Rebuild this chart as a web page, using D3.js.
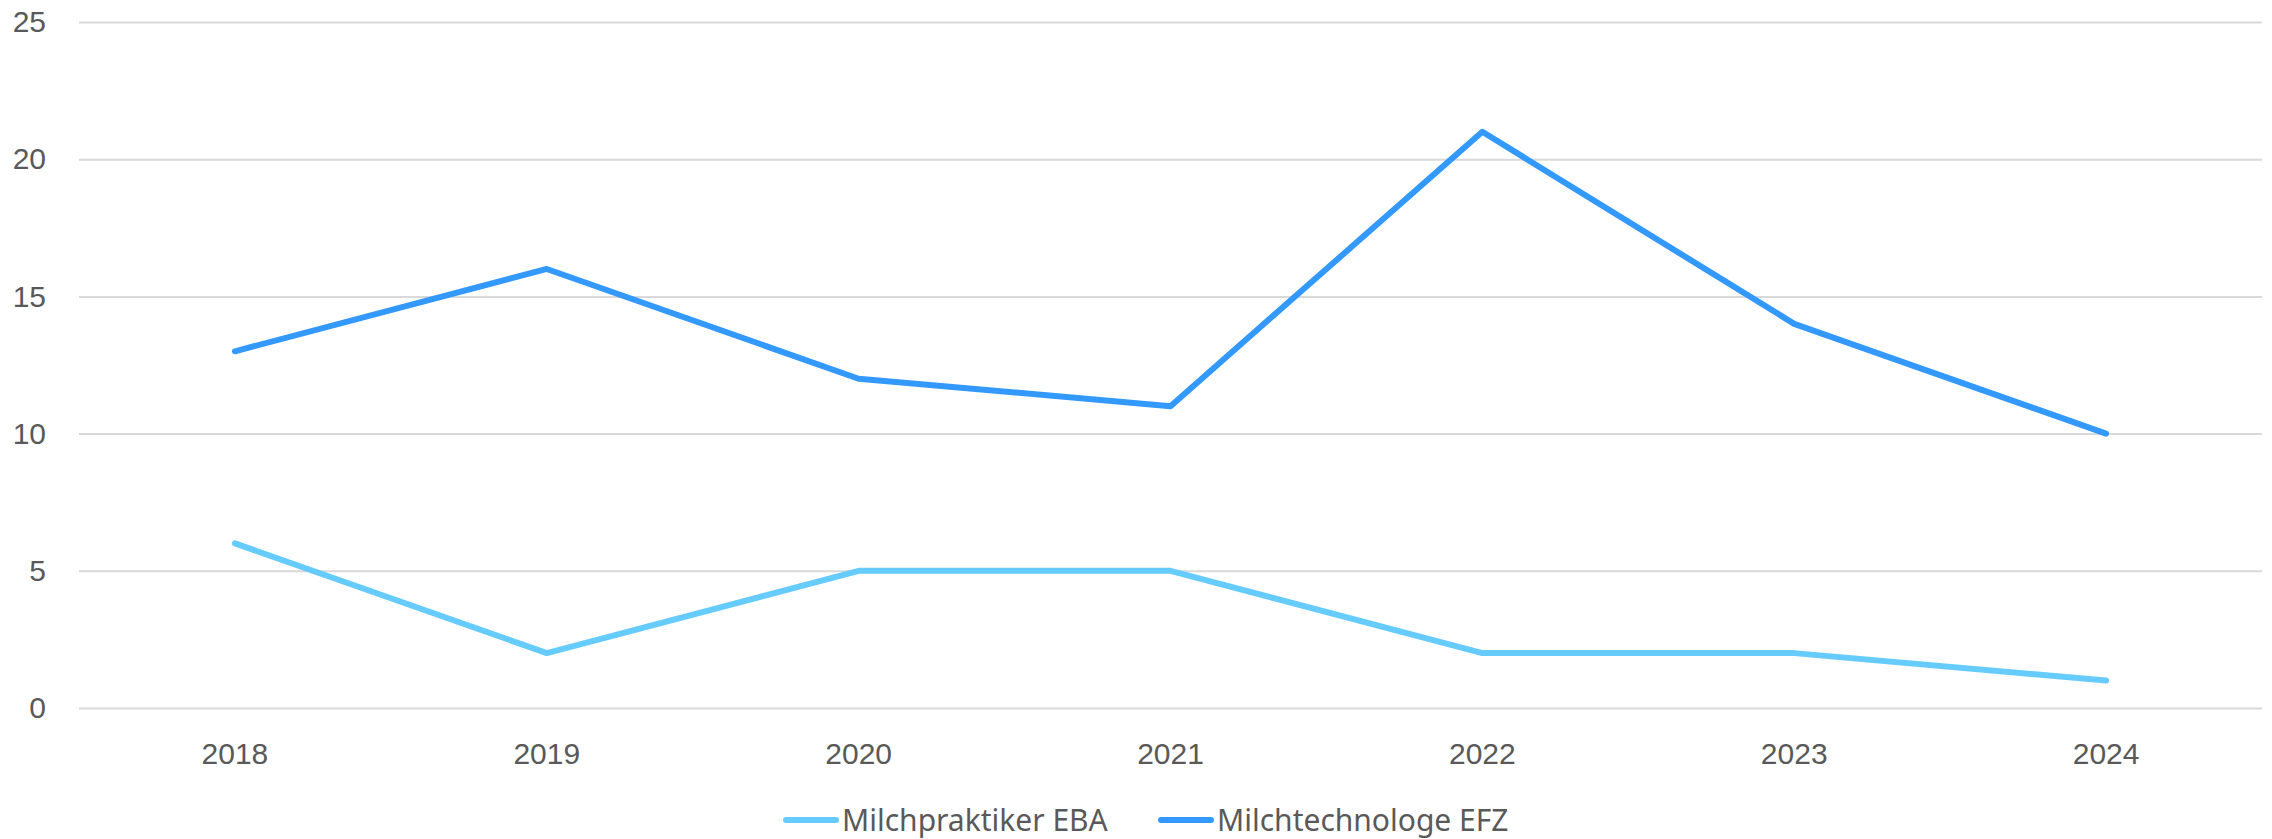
<!DOCTYPE html>
<html>
<head>
<meta charset="utf-8">
<script src="https://cdn.jsdelivr.net/npm/d3@7"></script>
<style>
  html, body { margin: 0; padding: 0; background: #fff; }
  svg { display: block; font-family: "Noto Sans", "Open Sans", sans-serif; }
</style>
</head>
<body>
<div id="chart"></div>
<script>
// Data
const years = ['2018', '2019', '2020', '2021', '2022', '2023', '2024'];
const eba = [6, 2, 5, 5, 2, 2, 1];
const efz = [13, 16, 12, 11, 21, 14, 10];
const seriesNames = ['Milchpraktiker EBA', 'Milchtechnologe EFZ'];
const seriesColors = ['#66ccff', '#3399ff'];
const yTicks = [0, 5, 10, 15, 20, 25];

const width = 2272;
const height = 839;
const margin = { top: 22, right: 10, bottom: 131, left: 79 };

const svg = d3.select('#chart')
  .append('svg')
  .attr('width', width)
  .attr('height', height);

const x = d3.scaleBand()
  .domain(years)
  .range([margin.left, width - margin.right]);

const y = d3.scaleLinear()
  .domain([0, 25])
  .range([height - margin.bottom, margin.top]);

// Gridlines + y labels
svg.append('g')
  .attr('transform', `translate(${margin.left},0)`)
  .call(d3.axisLeft(y).tickValues(yTicks).tickSize(-(width - margin.left - margin.right)).tickPadding(33))
  .call(g => g.select('.domain').remove())
  .call(g => g.selectAll('.tick line').attr('stroke', '#d9d9d9').attr('stroke-width', 2))
  .call(g => g.selectAll('.tick text').attr('fill', '#595959').attr('font-size', '30px'));

// X labels
svg.append('g')
  .attr('transform', `translate(0,${height - margin.bottom})`)
  .call(d3.axisBottom(x).tickSize(0).tickPadding(35))
  .call(g => g.select('.domain').remove())
  .call(g => g.selectAll('.tick text').attr('fill', '#595959').attr('font-size', '30px'));

// Lines
const line = d3.line()
  .x((d, i) => x(years[i]) + x.bandwidth() / 2)
  .y(d => y(d));

[eba, efz].forEach((vals, i) => {
  svg.append('path')
    .datum(vals)
    .attr('fill', 'none')
    .attr('stroke', seriesColors[i])
    .attr('stroke-width', 6)
    .attr('stroke-linejoin', 'round')
    .attr('stroke-linecap', 'round')
    .attr('d', line);
});

// Legend
const legend = svg.append('g').attr('transform', 'translate(0,820)');
const legendX = [786, 1161];
seriesNames.forEach((name, i) => {
  const g = legend.append('g').attr('transform', `translate(${legendX[i]},0)`);
  g.append('line')
    .attr('x1', 0).attr('x2', 50)
    .attr('stroke', seriesColors[i])
    .attr('stroke-width', 6)
    .attr('stroke-linecap', 'round');
  g.append('text')
    .attr('x', 56)
    .attr('y', 11)
    .attr('fill', '#595959')
    .attr('font-size', '30px')
    .text(name);
});
</script>
</body>
</html>
